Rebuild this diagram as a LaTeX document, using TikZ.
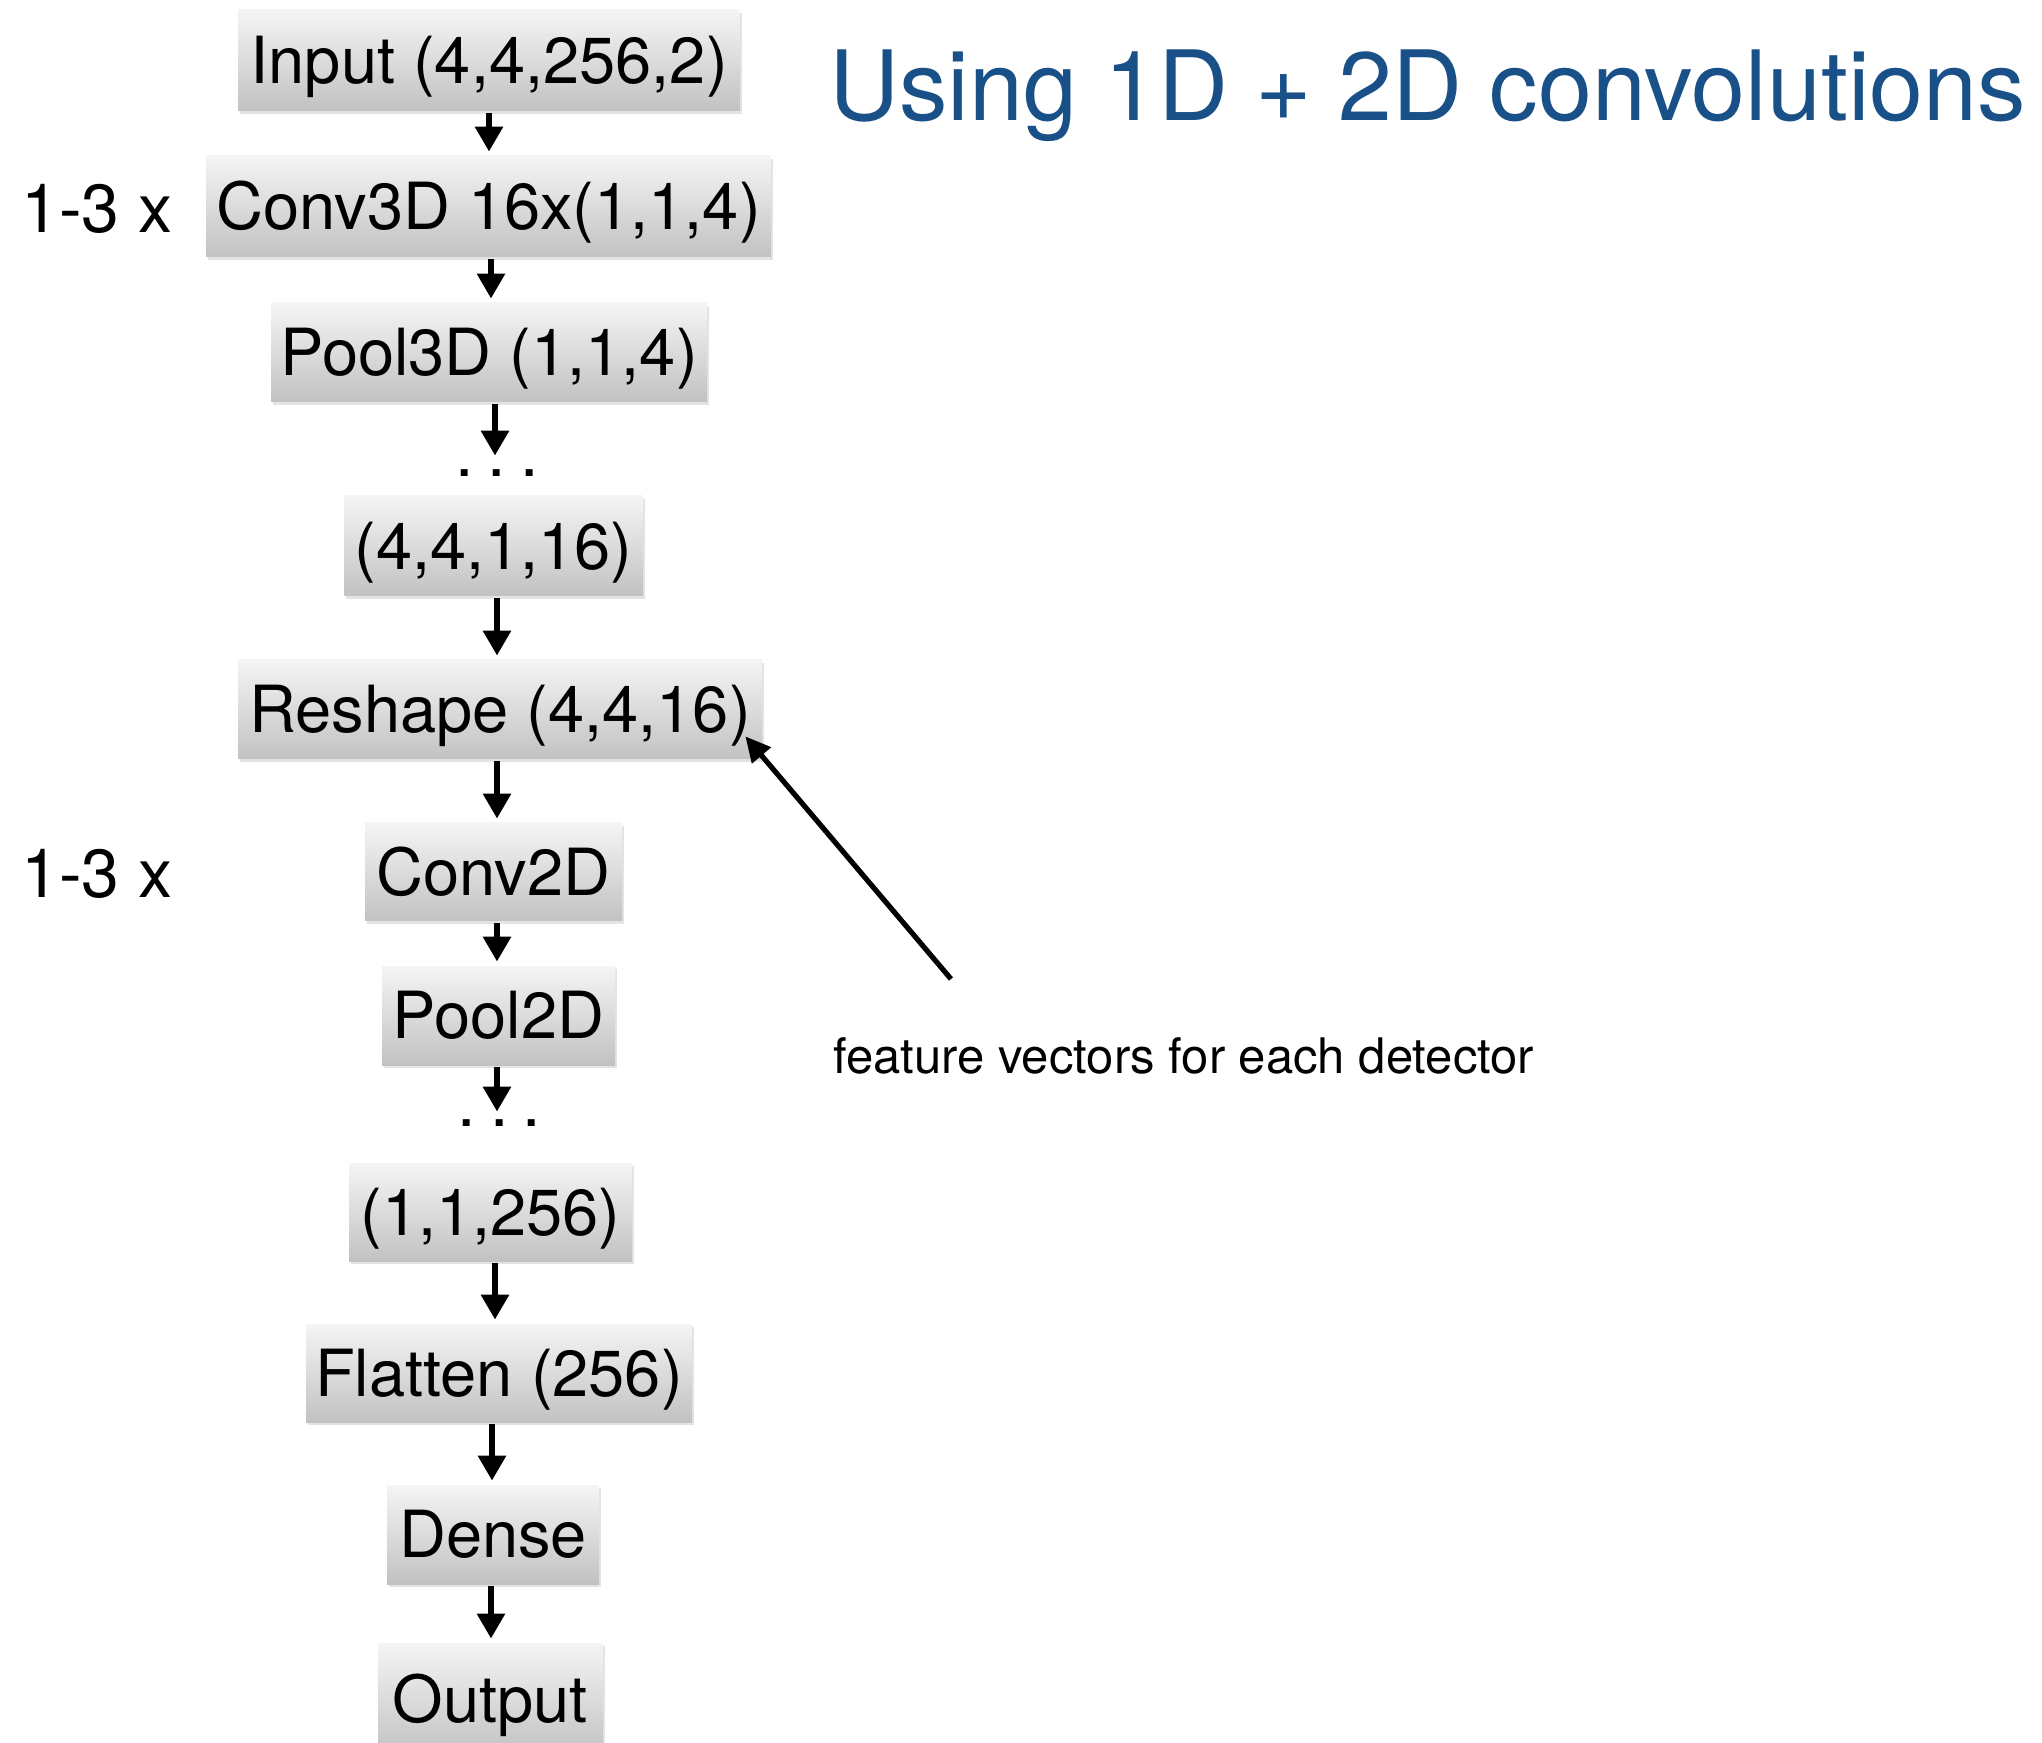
\documentclass[tikz,border=0pt]{standalone}
\usepackage{fontspec}
\setmainfont{TeX Gyre Heros}
\usetikzlibrary{arrows.meta,shadows}
\definecolor{titleblue}{RGB}{25,80,135}
\begin{document}
\begin{tikzpicture}[x=0.5pt,y=-0.5pt,
  layer/.style={rectangle, inner sep=0pt,
    top color=black!4, bottom color=black!24,
    drop shadow={shadow xshift=1pt,shadow yshift=-1.5pt,opacity=0.22},
    font=\fontsize{32.5}{38}\selectfont, text height=23.3pt, text depth=0pt},
  wh/.style 2 args={minimum width=#1*0.5pt, minimum height=#2*0.5pt},
  side/.style={inner sep=0pt, anchor=west,
    font=\fontsize{34}{40}\selectfont, text height=24.4pt, text depth=0pt},
  ellip/.style={inner sep=0pt, anchor=base, text height=0pt, text depth=0pt,
    font=\fontsize{33}{38}\selectfont},
  flow/.style={-{Triangle[width=13.5pt,length=12.5pt]}, line width=3pt,
    shorten <=1pt, shorten >=2pt},
  note/.style={-{Triangle[width=12pt,length=12.5pt]}, line width=2.6pt}]

\useasboundingbox (0,0) rectangle (2042,1743);

% main stack of layers
\node[layer, wh={502}{101}] (inp)   at (489,60.5)   {Input (4,4,256,2)};
\node[layer, wh={565}{101}] (c3d)   at (488.5,206.5) {Conv3D 16x(1,1,4)};
\node[layer, wh={436}{99}]  (p3d)   at (489,352.5)  {Pool3D (1,1,4)};
\node[ellip] (dots1) at (497,476.5) {.\hspace{7.1pt}.\hspace{7.1pt}.};
\node[layer, wh={299}{100}] (r1)    at (493.5,546)  {(4,4,1,16)};
\node[layer, wh={524}{99}]  (resh)  at (500,709.5)  {Reshape (4,4,16)};
\node[layer, wh={257}{98}]  (c2d)   at (493.5,872)  {Conv2D};
\node[layer, wh={233}{99}]  (p2d)   at (498.5,1015.5) {Pool2D};
\node[ellip] (dots2) at (499.5,1126.5) {.\hspace{7.1pt}.\hspace{7.1pt}.};
\node[layer, wh={283}{98}]  (r2)    at (490.5,1212) {(1,1,256)};
\node[layer, wh={386}{98}]  (flat)  at (499,1373)   {Flatten (256)};
\node[layer, wh={212}{99}]  (dense) at (493,1534.5) {Dense};
\node[layer, wh={225}{112}] (out)   at (490.5,1699) {Output};

% repeat counts
\node[side] (rep1) at (21,208) {1-3 x};
\node[side] (rep2) at (21,873) {1-3 x};

% title and annotation
\node[inner sep=0pt, anchor=west, text=titleblue,
      font=\fontsize{48.5}{56}\selectfont, text height=34.8pt, text depth=0pt]
      (title) at (829,85.5) {Using 1D + 2D convolutions};
\node[inner sep=0pt, anchor=base west, font=\fontsize{24.5}{30}\selectfont]
      (feat) at (833,1073) {feature vectors for each detector};

% arrow columns
\coordinate (xa) at (489,0);
\coordinate (xb) at (491,0);
\coordinate (xc) at (495,0);
\coordinate (xd) at (497,0);
\coordinate (xe) at (495,0);
\coordinate (xf) at (492,0);

\draw[flow] (inp.south -| xa) -- (c3d.north -| xa);
\draw[flow] (c3d.south -| xb) -- (p3d.north -| xb);
\draw[flow, shorten >=9.75pt] (p3d.south -| xc) -- (dots1.north -| xc);
\draw[flow] (r1.south -| xd) -- (resh.north -| xd);
\draw[flow] (resh.south -| xd) -- (c2d.north -| xd);
\draw[flow] (c2d.south -| xd) -- (p2d.north -| xd);
\draw[flow, shorten >=6.75pt] (p2d.south -| xd) -- (dots2.north -| xd);
\draw[flow] (r2.south -| xe) -- (flat.north -| xe);
\draw[flow] (flat.south -| xf) -- (dense.north -| xf);
\draw[flow] (dense.south -| xb) -- (out.north -| xb);

% pointer to the reshape layer
\coordinate (fv) at (951,979);
\draw[note] (fv) -- ([xshift=-8.5pt,yshift=11.5pt]resh.south east);

\end{tikzpicture}
\end{document}
